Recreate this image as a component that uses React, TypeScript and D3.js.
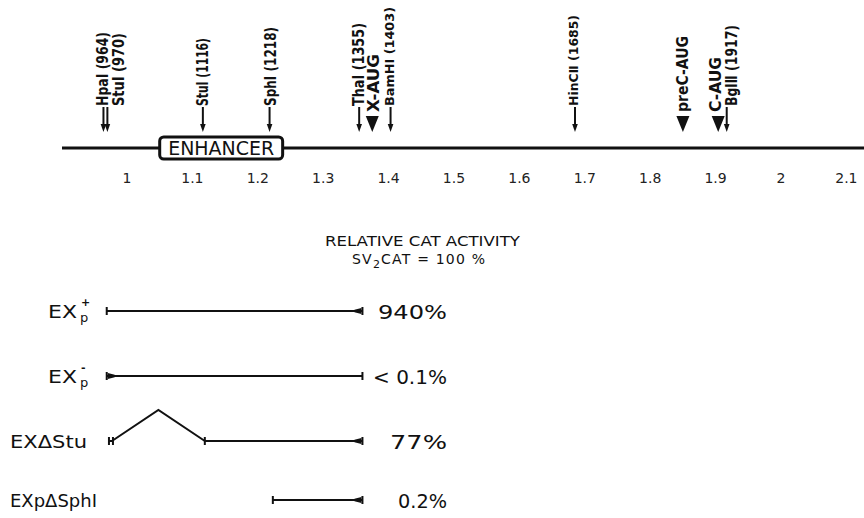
import React from "react";
import * as d3 from "d3";

// ---- data ----
const tickValues = [1, 1.1, 1.2, 1.3, 1.4, 1.5, 1.6, 1.7, 1.8, 1.9, 2, 2.1];
const tickLabels = ["1", "1.1", "1.2", "1.3", "1.4", "1.5", "1.6", "1.7", "1.8", "1.9", "2", "2.1"];

const siteNames = [
  "HpaI (964)", "StuI (970)", "StuI (1116)", "SphI (1218)", "ThaI (1355)", "X-AUG",
  "BamHI (1403)", "HinCⅡ (1685)", "preC-AUG", "C-AUG", "BglⅡ (1917)",
];
const sitePos = [0.964, 0.97, 1.116, 1.218, 1.355, 1.375, 1.403, 1.685, 1.85, 1.904, 1.917];
const siteKind = ["cut", "cut", "cut", "cut", "cut", "aug", "cut", "cut", "aug", "aug", "cut"];

const enhancerStart = 1.05;
const enhancerEnd = 1.238;

const constructNames = ["EXp+", "EXp-", "EXΔStu", "EXpΔSphI"];
const constructStart = [0.969, 0.969, 0.977, 1.223];
const constructEnd = [1.36, 1.36, 1.36, 1.36];
const deletionStart = [null, null, 0.977, null];
const deletionEnd = [null, null, 1.119, null];
const activityLabels = ["940%", "< 0.1%", "77%", "0.2%"];

export default function App() {
  const W = 864, H = 518;
  const x = d3.scaleLinear().domain([1, 2]).range([127, 781]);
  const lineY = 148;

  // layout helpers
  const labelShift = [-1, 11, 0, 1, -1, 1, -1, -2, 0, -3, 5];
  const labelLen = [74, 73, 68, 79, 83, 58, 99, 91, 76, 55, 81];
  const labelSize = [15, 15, 15, 15, 15, 15, 13, 13, 15, 15, 15];
  const rowY = [311, 376, 441, 500];
  const peakY = 410;
  const pctLen = [69, 74, 57, 49];
  const pctRight = 447;

  const font = "'DejaVu Sans', sans-serif";

  const endTick = (cx: number, cy: number, key: string) => (
    <line key={key} x1={cx} x2={cx} y1={cy - 4} y2={cy + 4} stroke="#111" strokeWidth={2} />
  );
  const blob = (cx: number, cy: number, dir: number, key: string) => (
    <path
      key={key}
      d={`M${cx},${cy - 3} L${cx},${cy + 3} L${cx - dir * 7},${cy + 1.2} L${cx - dir * 7},${cy - 1.2} Z`}
      fill="#111"
    />
  );

  return (
    <svg
      width={W}
      height={H}
      viewBox={`0 0 ${W} ${H}`}
      style={{ position: "absolute", left: 0, top: 0, background: "#fff" }}
      fontFamily={font}
    >
      <rect x={0} y={0} width={W} height={H} fill="#fff" />

      {/* main map line */}
      <line x1={62} x2={W} y1={lineY} y2={lineY} stroke="#111" strokeWidth={3} />
      <rect
        x={x(enhancerStart)}
        y={lineY - 11}
        width={x(enhancerEnd) - x(enhancerStart)}
        height={22}
        rx={4}
        fill="#fff"
        stroke="#111"
        strokeWidth={3}
      />
      <text
        x={(x(enhancerStart) + x(enhancerEnd)) / 2 - 53}
        y={lineY + 7}
        fontSize={19}
        fontWeight={500}
        textLength={106}
        lengthAdjust="spacingAndGlyphs"
        fill="#111"
      >
        ENHANCER
      </text>

      {/* axis tick labels */}
      {tickValues.map((v, i) => (
        <text key={"t" + i} x={x(v)} y={183} fontSize={14} textAnchor="middle" fill="#222">
          {tickLabels[i]}
        </text>
      ))}

      {/* sites */}
      {siteNames.map((name, i) => {
        const sx = x(sitePos[i]);
        const cx = sx + labelShift[i];
        const kind = siteKind[i];
        const startY = kind === "aug" ? 112 : 106;
        return (
          <g key={"s" + i}>
            {kind === "cut" ? (
              <g>
                <line x1={sx} x2={sx} y1={107} y2={126} stroke="#111" strokeWidth={2} />
                <path d={`M${sx - 2.8},${124} L${sx + 2.8},${124} L${sx},${132} Z`} fill="#111" />
              </g>
            ) : (
              <path d={`M${sx - 6.5},${116} L${sx + 6.5},${116} L${sx},${132} Z`} fill="#111" />
            )}
            <text
              transform={`translate(${cx + labelSize[i] * 0.37},${startY}) rotate(-90)`}
              fontSize={labelSize[i]}
              fontWeight="bold"
              textLength={labelLen[i]}
              lengthAdjust="spacingAndGlyphs"
              fill="#111"
            >
              {name}
            </text>
          </g>
        );
      })}

      {/* title */}
      <text x={325} y={246} fontSize={14} fontWeight={500} textLength={195} lengthAdjust="spacingAndGlyphs" fill="#111">
        RELATIVE CAT ACTIVITY
      </text>
      <text x={352} y={264} fontSize={14} fontWeight={500} fill="#111" letterSpacing={1.2}>
        SV<tspan fontSize={11} dy={4}>2</tspan>
        <tspan dy={-4}>CAT = 100 %</tspan>
      </text>

      {/* constructs */}
      {constructNames.map((name, i) => {
        const y = rowY[i];
        const x0 = x(constructStart[i]);
        const x1 = x(constructEnd[i]);
        const dS = deletionStart[i];
        const dE = deletionEnd[i];
        const els: React.ReactNode[] = [];
        if (dS != null && dE != null) {
          const a = x(dS), b = x(dE);
          els.push(
            <path
              key="del"
              d={`M${a},${y} L${(a + b) / 2},${peakY} L${b},${y}`}
              fill="none"
              stroke="#111"
              strokeWidth={2}
            />
          );
          els.push(<line key="ln" x1={b} x2={x1} y1={y} y2={y} stroke="#111" strokeWidth={2} />);
          els.push(<line key="lh" x1={a - 3} x2={a + 1} y1={y} y2={y} stroke="#111" strokeWidth={2} />);
          els.push(endTick(a - 3, y, "lt"));
          els.push(endTick(a + 1, y, "lt2"));
          els.push(endTick(b, y, "mt"));
        } else {
          els.push(<line key="ln" x1={x0} x2={x1} y1={y} y2={y} stroke="#111" strokeWidth={2} />);
          els.push(endTick(x0, y, "lt"));
        }
        els.push(endTick(x1, y, "rt"));
        if (i === 1) els.push(blob(x0 + 1, y, -1, "bl"));
        else els.push(blob(x1 - 1, y, 1, "br"));

        let label: React.ReactNode;
        if (i < 2) {
          label = (
            <g>
              <text x={48} y={y + 7} fontSize={17} textLength={29} lengthAdjust="spacingAndGlyphs" fill="#111">
                EX
              </text>
              <text x={80} y={y + 11} fontSize={13} fill="#111">p</text>
              <text x={81} y={y - 5} fontSize={11} fontWeight="bold" fill="#111">
                {i === 0 ? "+" : "-"}
              </text>
            </g>
          );
        } else {
          const len = i === 2 ? 77 : 87;
          label = (
            <text x={10} y={y + 7} fontSize={17} textLength={len} lengthAdjust="spacingAndGlyphs" fill="#111">
              {name}
            </text>
          );
        }
        return (
          <g key={"c" + i}>
            {els}
            {label}
            <text
              x={pctRight - pctLen[i]}
              y={y + 8}
              fontSize={19}
              textLength={pctLen[i]}
              lengthAdjust="spacingAndGlyphs"
              fill="#111"
            >
              {activityLabels[i]}
            </text>
          </g>
        );
      })}
    </svg>
  );
}
